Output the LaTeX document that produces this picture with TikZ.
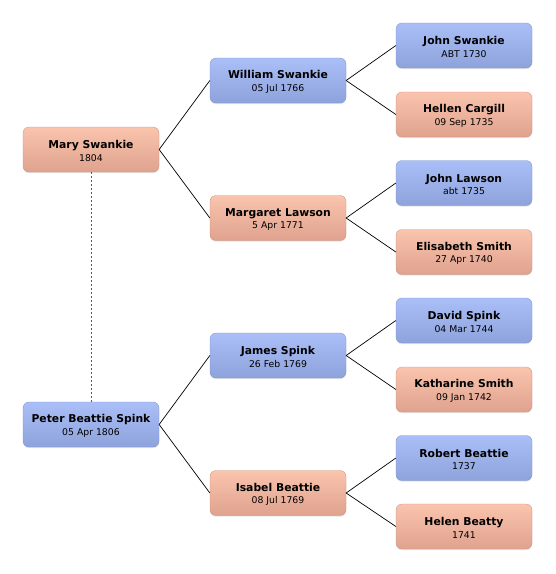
\documentclass[tikz,border=0pt]{standalone}
\usepackage{fontspec}
\setmainfont{DejaVu Sans}
\usetikzlibrary{shadows}
\definecolor{btop}{HTML}{AABFF7}
\definecolor{bbot}{HTML}{8EA2DC}
\definecolor{ptop}{HTML}{FAC4AD}
\definecolor{pbot}{HTML}{DFA28E}
\tikzset{
  person/.style={rounded corners=6pt, minimum width=136pt, minimum height=45pt,
    inner sep=0pt, align=center,
    drop shadow={opacity=0.2, shadow xshift=0pt, shadow yshift=-1.2pt}},
  male/.style={person, top color=btop, bottom color=bbot, draw=bbot!90!black, line width=0.3pt},
  female/.style={person, top color=ptop, bottom color=pbot, draw=pbot!90!black, line width=0.3pt},
  link/.style={line width=0.7pt, black},
  spouse/.style={line width=0.8pt, gray!70!black, dash pattern=on 2pt off 2pt}
}
\newcommand{\pname}[2]{{\fontsize{10.8}{14}\selectfont\bfseries\rule{0pt}{11pt}#1}\\[0.5pt]{\fontsize{9.3}{11}\selectfont #2}}
\begin{document}
\begin{tikzpicture}[x=1pt,y=-1pt]
\useasboundingbox (0,0) rectangle (556,574);
\node[female] (mary) at (91,149.5) {\pname{Mary Swankie}{1804}};
\node[male] (peter) at (91,424.5) {\pname{Peter Beattie Spink}{05 Apr 1806}};
\node[male] (william) at (278,80.5) {\pname{William Swankie}{05 Jul 1766}};
\node[female] (margaret) at (278,218) {\pname{Margaret Lawson}{5 Apr 1771}};
\node[male] (james) at (278,355.5) {\pname{James Spink}{26 Feb 1769}};
\node[female] (isabel) at (278,493) {\pname{Isabel Beattie}{08 Jul 1769}};
\node[male] (jswankie) at (464,45.5) {\pname{John Swankie}{ABT 1730}};
\node[female] (hellen) at (464,114.5) {\pname{Hellen Cargill}{09 Sep 1735}};
\node[male] (jlawson) at (464,183) {\pname{John Lawson}{abt 1735}};
\node[female] (elisabeth) at (464,252) {\pname{Elisabeth Smith}{27 Apr 1740}};
\node[male] (david) at (464,320.5) {\pname{David Spink}{04 Mar 1744}};
\node[female] (katharine) at (464,389.5) {\pname{Katharine Smith}{09 Jan 1742}};
\node[male] (robert) at (464,458) {\pname{Robert Beattie}{1737}};
\node[female] (helen) at (464,526.5) {\pname{Helen Beatty}{1741}};
\draw[spouse] (mary.south) -- (peter.north);
\draw[link] (mary.east) -- (william.west);
\draw[link] (mary.east) -- (margaret.west);
\draw[link] (peter.east) -- (james.west);
\draw[link] (peter.east) -- (isabel.west);
\draw[link] (william.east) -- (jswankie.west);
\draw[link] (william.east) -- (hellen.west);
\draw[link] (margaret.east) -- (jlawson.west);
\draw[link] (margaret.east) -- (elisabeth.west);
\draw[link] (james.east) -- (david.west);
\draw[link] (james.east) -- (katharine.west);
\draw[link] (isabel.east) -- (robert.west);
\draw[link] (isabel.east) -- (helen.west);
\end{tikzpicture}
\end{document}
